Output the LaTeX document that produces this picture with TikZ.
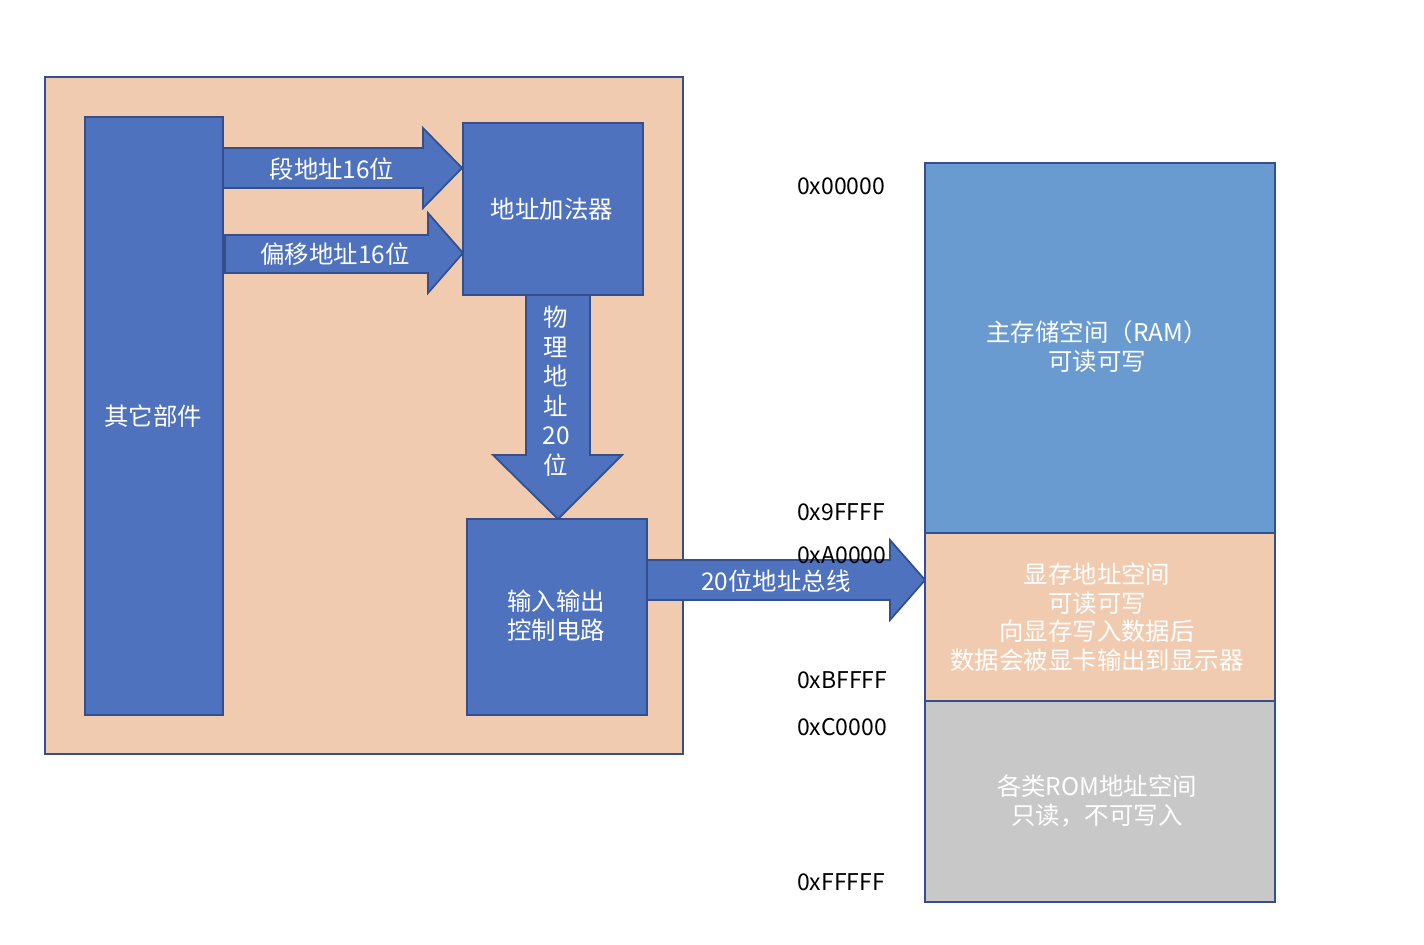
\documentclass[tikz,border=0pt]{standalone}
\usepackage{fontspec}
\setmainfont{Noto Sans CJK SC}
\usepackage{tikz}

\definecolor{peach}{RGB}{241,203,176}
\definecolor{boxblue}{RGB}{78,114,190}
\definecolor{ramblue}{RGB}{106,155,208}
\definecolor{romgray}{RGB}{200,200,200}
\definecolor{edge}{RGB}{52,80,140}

\tikzset{
  part/.style={fill=boxblue,draw=edge,line width=1pt},
  bigarrow/.style={fill=boxblue,draw=edge,line width=1pt,line join=miter},
  wtext/.style={text=white,font=\fontsize{13.9}{16.5}\selectfont,align=center},
  hexlabel/.style={anchor=west,font=\fontsize{13.1}{15}\selectfont}
}

\begin{document}
\begin{tikzpicture}[x=0.02cm,y=-0.02cm]
  \useasboundingbox (0,0) rectangle (1424,944);

  % CPU side
  \draw[fill=peach,draw=edge,line width=1pt] (45,77) rectangle (683,754);
  \draw[part] (85,117) rectangle (223,715);
  \draw[part] (463,123) rectangle (643,295);
  \draw[part] (467,519) rectangle (647,715);

  \node[wtext] (other) at (153,416) {其它部件};
  \node[wtext] (adder) at (552,209) {地址加法器};
  \node[wtext] (ioctl) at (556,616) {输入输出\\控制电路};

  % block arrows
  \draw[bigarrow] (223,148) -- (423,148) -- (423,128) -- (462,168) -- (423,208)
    -- (423,188) -- (223,188) -- cycle;
  \draw[bigarrow] (225,235) -- (428,235) -- (428,213) -- (463,253) -- (428,293)
    -- (428,273) -- (225,273) -- cycle;
  \draw[bigarrow] (526,295) -- (590,295) -- (590,455) -- (622,455) -- (558,519)
    -- (493,455) -- (526,455) -- cycle;
  \draw[bigarrow] (647,560) -- (890,560) -- (890,540) -- (925,580) -- (890,620)
    -- (890,600) -- (647,600) -- cycle;

  \node[wtext] (seg) at (332,169) {段地址16位};
  \node[wtext] (off) at (335,254) {偏移地址16位};
  \node[wtext,font=\fontsize{13.9}{16.8}\selectfont] (phys) at (556,391)
    {物\\理\\地\\址\\20\\位};
  \node[wtext] (bus) at (776,581) {20位地址总线};

  % memory map
  \draw[fill=ramblue,draw=edge,line width=1pt] (925,163) rectangle (1275,533);
  \draw[fill=peach,draw=edge,line width=1pt] (925,533) rectangle (1275,701);
  \draw[fill=romgray,draw=edge,line width=1pt] (925,701) rectangle (1275,902);

  \node[wtext] (ram) at (1097,347) {主存储空间（RAM）\\可读可写};
  \node[wtext,font=\fontsize{13.9}{16.3}\selectfont] (vram) at (1097,617)
    {显存地址空间\\可读可写\\向显存写入数据后\\数据会被显卡输出到显示器};
  \node[wtext] (rom) at (1097,801) {各类ROM地址空间\\只读，不可写入};

  \node[hexlabel] (a0) at (791,186) {0x00000};
  \node[hexlabel] (a1) at (791,512) {0x9FFFF};
  \node[hexlabel] (a2) at (791,555) {0xA0000};
  \node[hexlabel] (a3) at (791,680) {0xBFFFF};
  \node[hexlabel] (a4) at (791,727) {0xC0000};
  \node[hexlabel] (a5) at (791,882) {0xFFFFF};
\end{tikzpicture}
\end{document}
